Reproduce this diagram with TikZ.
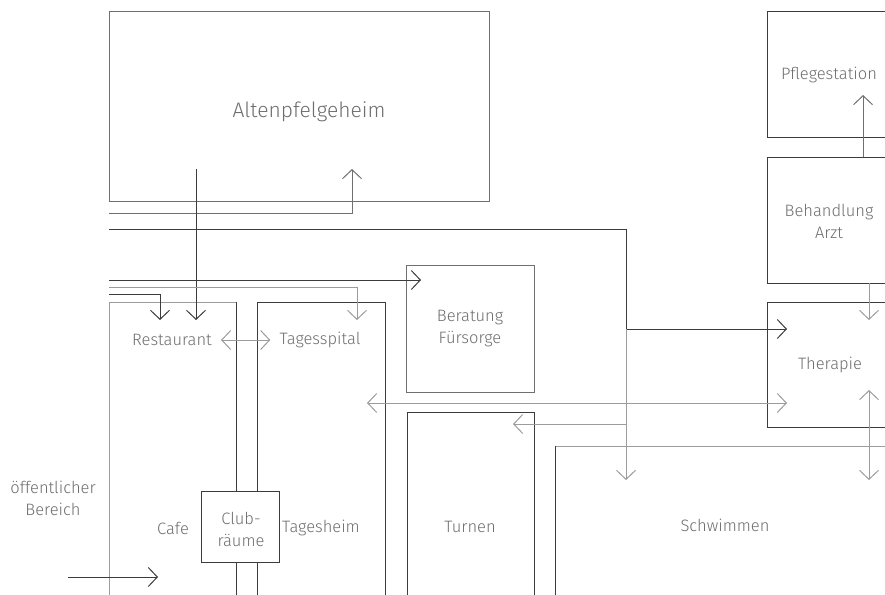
\documentclass[tikz,border=0pt]{standalone}
\usepackage{fontspec}
\setmainfont{Fira Sans}[UprightFont=* Light]
\usetikzlibrary{arrows.meta}
\definecolor{ink}{HTML}{3C3C3C}
\definecolor{mid}{HTML}{707070}
\definecolor{pale}{HTML}{9C9C9C}
\definecolor{txt}{HTML}{6E6E6E}
\tikzset{
  room/.style={draw=ink, line width=1pt, anchor=north west, inner sep=0pt, outer sep=0pt},
  wall/.style={draw=ink, line width=1pt},
  lab/.style={font=\fontsize{16.5}{22}\selectfont, text=txt, align=center, inner sep=0pt},
  biglab/.style={lab, font=\fontsize{21}{25}\selectfont},
  flow/.style={-{Straight Barb[length=9pt,width=19pt]}, draw=ink, line width=1pt},
  pflow/.style={flow, draw=pale},
  dflow/.style={flow, {Straight Barb[length=9pt,width=19pt]}-{Straight Barb[length=9pt,width=19pt]}},
}
\begin{document}
\begin{tikzpicture}[x=1pt, y=-1pt]
    \useasboundingbox (0,0) rectangle (885,594);
    \fill[white] (0,0) rectangle (885,594);
    \clip (0,0) rectangle (885,594);
    % rooms, top row
    \node[room, draw=mid, minimum width=380pt, minimum height=189pt] (heim) at (109,12) {};
    \node[room, minimum width=140pt, minimum height=125pt] (pflege) at (767,12) {};
    \node[room, minimum width=140pt, minimum height=126pt] (behand) at (767,157) {};
    \node[room, minimum width=140pt, minimum height=125pt] (therapie) at (767,302) {};
    \node[room, draw=mid, minimum width=128pt, minimum height=127pt] (beratung) at (406,265) {};
    % rooms, lower part
    \node[room, draw=pale, minimum width=127pt, minimum height=320pt] (restcol) at (109,302) {};
    \draw[wall] (restcol.north east) -- (restcol.south east);
    \node[room, minimum width=128pt, minimum height=320pt] (tagcol) at (257,302) {};
    \node[room, minimum width=127pt, minimum height=200pt] (turnen) at (407,412) {};
    \node[room, draw=pale, minimum width=345pt, minimum height=170pt] (schwimmen) at (555,446) {};
    \draw[wall] (schwimmen.north west) -- (schwimmen.south west);
    \node[room, fill=white, minimum width=78pt, minimum height=71pt] (club) at (201,491) {};
    % labels
    \node[biglab] (heimlab) at (309,112) {Altenpfelgeheim};
    \node[lab] (pflegelab) at (829,75) {Pflegestation};
    \node[lab] (behandlab) at (829,221) {Behandlung\\Arzt};
    \node[lab] (therlab) at (830,365) {Therapie};
    \node[lab] (berlab) at (470,329) {Beratung\\Fürsorge};
    \node[lab] (restlab) at (172,340) {Restaurant};
    \node[lab] (tagsplab) at (320,340) {Tagesspital};
    \node[lab] (turnlab) at (470,527) {Turnen};
    \node[lab] (swimlab) at (725,525) {Schwimmen};
    \node[lab] (publab) at (53,498) {öffentlicher\\Bereich};
    \node[lab] (cafelab) at (173,528) {Cafe};
    \node[lab] (tagheimlab) at (321,528) {Tagesheim};
    \node[lab] (clublab) at (241,529) {Club-\\räume};
    % connector ends
    \coordinate (w1) at (109,213);
    \coordinate (w2) at (109,229);
    \coordinate (w3) at (109,280);
    \coordinate (w4) at (109,287);
    \coordinate (w5) at (109,294);
    \coordinate (heimup) at (352,169);
    \coordinate (heimdown) at (196,169);
    \coordinate (restin1) at (160,320);
    \coordinate (restin2) at (196,320);
    \coordinate (tagin) at (357,320);
    \coordinate (tagin2) at (367,403);
    \coordinate (berin) at (421,280);
    \coordinate (hub) at (626,329);
    \coordinate (hub2) at (626,424);
    \coordinate (turnin) at (513,424);
    \coordinate (swimin) at (626,480);
    \coordinate (thin1) at (787,329);
    \coordinate (thin2) at (787,403);
    \coordinate (behdown) at (869,283);
    \coordinate (thin3) at (869,320);
    \coordinate (thup) at (869,390);
    \coordinate (swimin2) at (869,480);
    \coordinate (behup) at (863,157);
    \coordinate (pflin) at (863,95);
    \coordinate (entry) at (68,577);
    \coordinate (cafein) at (158,577);
    % flows
    \draw[flow, draw=mid] (w1) -| (heimup);
    \draw[wall] (w2) -| (hub);
    \draw[flow] (hub) -- (thin1);
    \draw[pflow] (hub) -- (swimin);
    \draw[pflow] (hub2) -- (turnin);
    \draw[flow] (heimdown) -- (restin2);
    \draw[flow] (w3) -- (berin);
    \draw[pflow] (w4) -| (tagin);
    \draw[flow] (w5) -| (restin1);
    \draw[dflow, draw=pale] ([xshift=9pt]restlab.east) -- ([xshift=-9pt]tagsplab.west);
    \draw[dflow, draw=pale] (tagin2) -- (thin2);
    \draw[pflow] (behdown) -- (thin3);
    \draw[dflow, draw=pale] (thup) -- (swimin2);
    \draw[flow, draw=mid] (behup) -- (pflin);
    \draw[flow] (entry) -- (cafein);
  \end{tikzpicture}
\end{document}
